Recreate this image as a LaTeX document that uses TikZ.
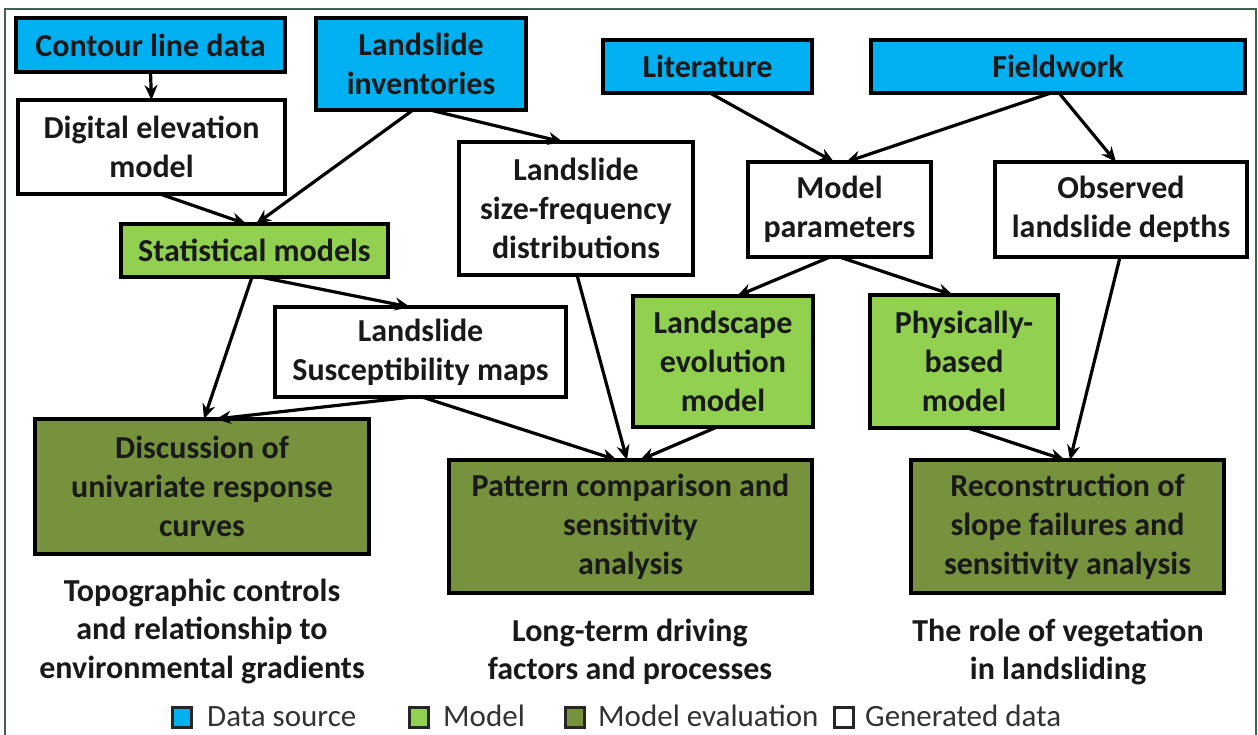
\documentclass[tikz,border=0pt]{standalone}
\usepackage{fontspec}
\setmainfont{Carlito}
\usetikzlibrary{arrows.meta,calc}
\definecolor{dsrc}{RGB}{0,176,240}
\definecolor{mdl}{RGB}{146,208,80}
\definecolor{meval}{RGB}{118,146,60}
\definecolor{framecol}{RGB}{62,100,78}
\definecolor{txt}{RGB}{25,25,25}
\definecolor{legtxt}{RGB}{50,50,50}
\tikzset{
  box/.style={draw=black, line width=4pt, inner sep=0pt, outer sep=0pt, align=center,
    font=\fontsize{32}{39}\selectfont\bfseries, text=txt},
  src/.style={box, fill=dsrc},
  gen/.style={box, fill=white},
  mod/.style={box, fill=mdl},
  eval/.style={box, fill=meval},
  caption/.style={align=center, inner sep=0pt, font=\fontsize{32}{38.5}\selectfont\bfseries, text=txt},
  arr/.style={-{Stealth[length=15pt,width=13pt]}, line width=3.2pt, black},
  legbox/.style={draw=black!85, line width=3pt, minimum width=19pt, minimum height=20pt, inner sep=0pt},
  legtext/.style={anchor=base west, inner sep=0pt, font=\fontsize{31}{36}\selectfont, text=legtxt},
}
\begin{document}
\begin{tikzpicture}[x=1pt,y=-1pt]
\useasboundingbox (0,0) rectangle (1258,734);
\fill[white] (0,0) rectangle (1258,734);
\draw[framecol, line width=1.5pt] (5,9) rectangle (1256,780);

% data sources
\node[src, minimum width=269pt, minimum height=54pt] (contour) at (150.5,45) {Contour line data};
\node[src, minimum width=210pt, minimum height=92pt] (inv) at (421,64) {Landslide\\inventories};
\node[src, minimum width=209pt, minimum height=53pt] (lit) at (707.5,66.5) {Literature};
\node[src, minimum width=374pt, minimum height=53pt] (field) at (1058,66.5) {Fieldwork};

% generated data
\node[gen, minimum width=267pt, minimum height=94pt] (dem) at (151.5,147) {Digital elevation\\model};
\node[gen, minimum width=234pt, minimum height=133pt] (sfd) at (576,208.5) {Landslide\\size-frequency\\distributions};
\node[gen, minimum width=183pt, minimum height=95pt] (par) at (839.5,209.5) {Model\\parameters};
\node[gen, minimum width=252pt, minimum height=95pt] (obs) at (1121,209.5) {Observed\\landslide depths};
\node[gen, minimum width=291pt, minimum height=90pt] (sus) at (420.5,352) {Landslide\\Susceptibility maps};

% models
\node[mod, minimum width=267pt, minimum height=53pt] (stat) at (254.5,250.5) {Statistical models};
\node[mod, minimum width=180pt, minimum height=131pt] (lem) at (723,361.5) {Landscape\\evolution\\model};
\node[mod, minimum width=188pt, minimum height=133pt] (phys) at (964,361.5) {Physically-\\based\\model};

% evaluation
\node[eval, minimum width=334pt, minimum height=135pt] (disc) at (202,486.5) {Discussion of\\univariate response\\curves};
\node[eval, minimum width=363pt, minimum height=133pt] (pat) at (630.5,526.5) {Pattern comparison and\\sensitivity\\analysis};
\node[eval, minimum width=313pt, minimum height=133pt] (rec) at (1067.5,526.5) {Reconstruction of\\slope failures and\\sensitivity analysis};

% captions
\node[caption] (cap1) at (202,631) {Topographic controls\\and relationship to\\environmental gradients};
\node[caption] (cap2) at (630,652) {Long-term driving\\factors and processes};
\node[caption] (cap3) at (1058,652) {The role of vegetation\\in landsliding};

% connectors
\draw[arr] (contour.south) -- (dem.north);
\draw[arr] ([xshift=8.5pt]dem.south) -- ([xshift=-8pt]stat.north);
\draw[arr] ([xshift=-8pt]inv.south) -- ([xshift=1.5pt]stat.north);
\draw[arr] ([xshift=9pt]inv.south) -- ([xshift=-13pt]sfd.north);
\draw[arr] ([xshift=2.5pt]lit.south) -- ([xshift=-5.5pt]par.north);
\draw[arr] ([xshift=-7pt]field.south) -- ([xshift=6.5pt]par.north);
\draw[arr] ([xshift=1pt]field.south) -- ([xshift=-5pt]obs.north);
\draw[arr] ([xshift=-9.5pt]par.south) -- ([xshift=14pt]lem.north);
\draw[arr] ([xshift=0pt]par.south) -- ([xshift=-11pt]phys.north);
\draw[arr] ([xshift=-2.5pt]stat.south) -- ([xshift=2pt]disc.north);
\draw[arr] ([xshift=5.5pt]stat.south) -- ([xshift=-10.5pt]sus.north);
\draw[arr] ([xshift=-8.5pt]sus.south) -- ([xshift=14pt]disc.north);
\draw[arr] ([xshift=1.5pt]sus.south) -- ([xshift=-13.5pt]pat.north);
\draw[arr] ([xshift=1pt]sfd.south) -- ([xshift=-3.5pt]pat.north);
\draw[arr] ([xshift=-6pt]lem.south) -- ([xshift=9.5pt]pat.north);
\draw[arr] ([xshift=4pt]phys.south) -- ([xshift=-2.5pt]rec.north);
\draw[arr] ([xshift=-1pt]obs.south) -- ([xshift=2.5pt]rec.north);

% legend
\node[legbox, fill=dsrc] (l1) at (182,717) {};
\node[legtext] (l1t) at (207,726) {Data source};
\node[legbox, fill=mdl] (l2) at (419,717) {};
\node[legtext] (l2t) at (443,726) {Model};
\node[legbox, fill=meval] (l3) at (574.5,717) {};
\node[legtext] (l3t) at (598,726) {Model evaluation};
\node[legbox, fill=white] (l4) at (844,717) {};
\node[legtext] (l4t) at (865,726) {Generated data};
\end{tikzpicture}
\end{document}
